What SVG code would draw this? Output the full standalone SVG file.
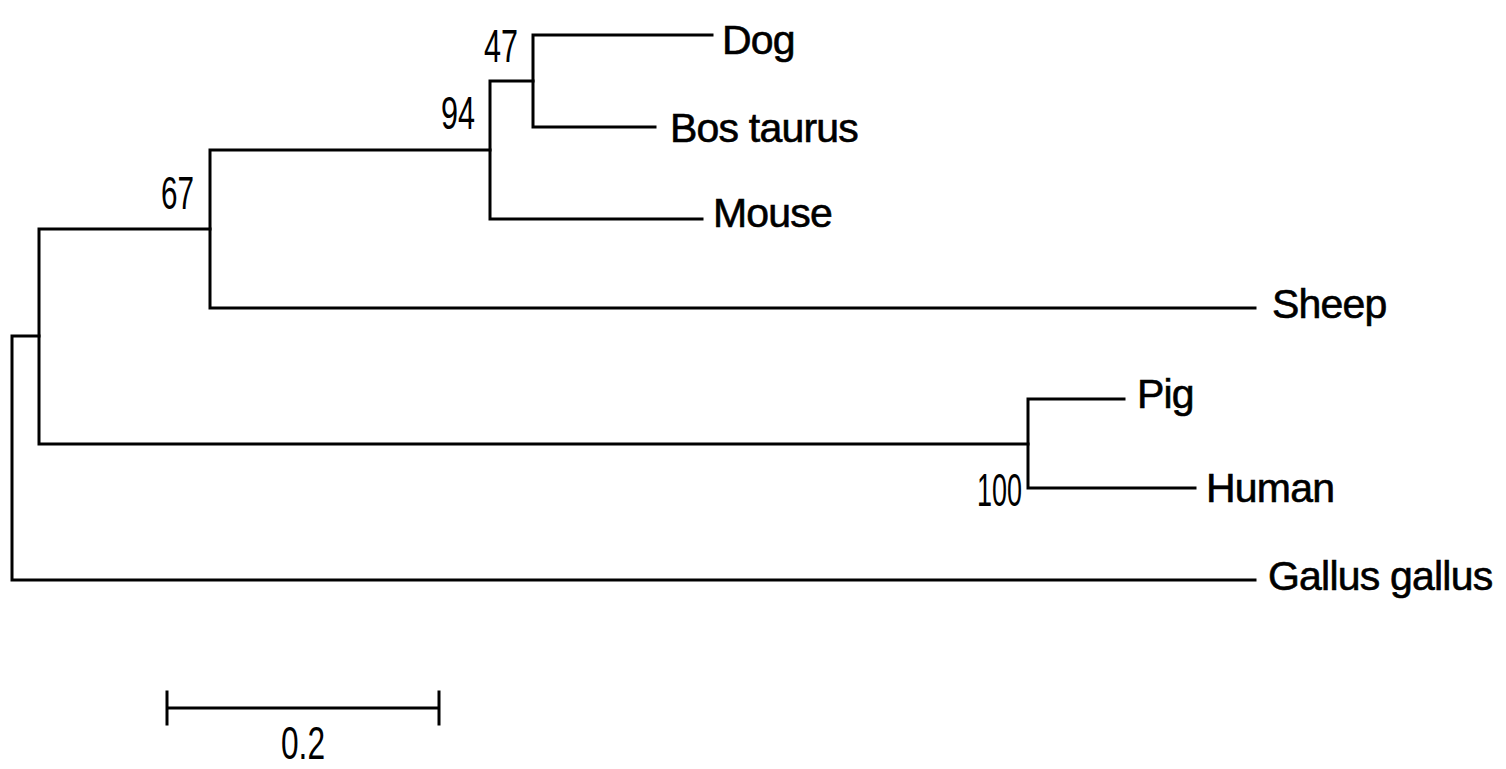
<svg xmlns="http://www.w3.org/2000/svg" width="1506" height="769" viewBox="0 0 1506 769">
  <style>
    .branch { fill: none; stroke: #000; stroke-width: 3; stroke-linejoin: miter; stroke-linecap: square; }
    .taxon { font-family: "Liberation Sans", Arial, sans-serif; font-size: 41px; fill: #000; stroke: #000; stroke-width: 0.6; letter-spacing: -0.8px; }
    .boot { font-family: "Liberation Sans", Arial, sans-serif; font-size: 47px; fill: #000; }
  </style>
  <rect width="1506" height="769" fill="#fff"/>

  <!-- tree branches -->
  <g id="connectors">
    <path class="branch" d="M39 336 H12 V580 H1255"/>
    <path class="branch" d="M210 229 H39 V444 H1028"/>
    <path class="branch" d="M490 150 H210 V308 H1255"/>
    <path class="branch" d="M533 81 H490 V219 H702"/>
    <path class="branch" d="M712 35 H533 V127 H655"/>
    <path class="branch" d="M1124 399 H1028 V488 H1195"/>
  </g>

  <!-- leaf taxa -->
  <g id="dog"><text class="taxon" x="722" y="54">Dog</text></g>
  <g id="bos-taurus"><text class="taxon" x="670" y="142">Bos taurus</text></g>
  <g id="mouse"><text class="taxon" x="713" y="227">Mouse</text></g>
  <g id="sheep"><text class="taxon" x="1272" y="318">Sheep</text></g>
  <g id="pig"><text class="taxon" x="1137" y="408">Pig</text></g>
  <g id="human"><text class="taxon" x="1206" y="502">Human</text></g>
  <g id="gallus-gallus"><text class="taxon" x="1268" y="590">Gallus gallus</text></g>

  <!-- bootstrap values -->
  <g id="boot-47"><text class="boot" x="484" y="62" textLength="34" lengthAdjust="spacingAndGlyphs">47</text></g>
  <g id="boot-94"><text class="boot" x="441" y="129" textLength="34" lengthAdjust="spacingAndGlyphs">94</text></g>
  <g id="boot-67"><text class="boot" x="161" y="209" textLength="33" lengthAdjust="spacingAndGlyphs">67</text></g>
  <g id="boot-100"><text class="boot" x="977" y="506" textLength="45" lengthAdjust="spacingAndGlyphs">100</text></g>

  <!-- scale bar -->
  <g id="scale-bar">
    <path class="branch" d="M167 708 H439 M167 692 V724 M439 692 V724" stroke-linecap="butt"/>
    <text class="boot" x="281" y="759" font-size="40" textLength="44" lengthAdjust="spacingAndGlyphs">0.2</text>
  </g>
</svg>
